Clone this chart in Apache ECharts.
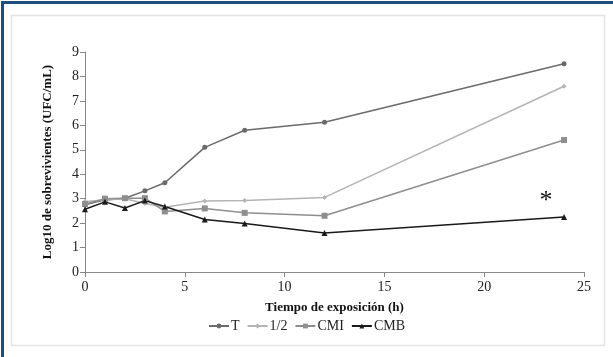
<!DOCTYPE html>
<html>
<head>
<meta charset="utf-8">
<script src="https://cdn.jsdelivr.net/npm/echarts@6/dist/echarts.min.js"></script>
<style>
  html, body { margin: 0; padding: 0; background: #fff; }
  #main { width: 613px; height: 357px; }
</style>
</head>
<body>
<div id="main"></div>
<script>
// horas de exposicion
var horas = [0, 1, 2, 3, 4, 6, 8, 12, 24];
// log10 sobrevivientes por tratamiento
var valT   = [2.75, 2.95, 3.02, 3.32, 3.65, 5.1, 5.8, 6.13, 8.52];
var valMed = [2.88, 2.95, 3.0, 2.8, 2.65, 2.9, 2.92, 3.05, 7.6];
var valCMI = [2.78, 3.0, 3.02, 3.02, 2.48, 2.6, 2.42, 2.3, 5.4];
var valCMB = [2.57, 2.87, 2.62, 2.92, 2.68, 2.15, 1.98, 1.6, 2.25];
var nombres = ['T', '1/2', 'CMI', 'CMB'];

function pares(v){
    var out = [];
    for (var i = 0; i < horas.length; i++) out.push([horas[i], v[i]]);
    return out;
}

var myChart = echarts.init(document.getElementById('main'));
var fuente = 'Liberation Serif';

var option = {
    animation: false,
    backgroundColor: '#fff',
    textStyle: { fontFamily: fuente },
    graphic: [
        { type: 'rect', left: 0, top: 0, shape: { width: 613, height: 357 },
          style: { fill: 'none', stroke: '#1f4e79', lineWidth: 3 }, silent: true },
        { type: 'rect', left: 9, top: 13, shape: { width: 593, height: 330 },
          style: { fill: 'none', stroke: '#e4e4e4', lineWidth: 1.5 }, silent: true }
    ],
    grid: { left: 85, right: 29, top: 52, bottom: 85 },
    legend: {
        bottom: 19,
        left: 'center',
        itemWidth: 20,
        itemHeight: 6,
        itemGap: 7,
        textStyle: { fontFamily: fuente, fontSize: 14, color: '#222', padding: [0, 0, 0, -3] },
        data: nombres
    },
    xAxis: {
        type: 'value', min: 0, max: 25, interval: 5,
        name: 'Tiempo de exposición (h)',
        nameLocation: 'middle', nameGap: 29,
        nameTextStyle: { fontFamily: fuente, fontSize: 13, fontWeight: 'bold', color: '#111' },
        axisLine: { lineStyle: { color: '#888' } },
        axisTick: { show: true, lineStyle: { color: '#888' } },
        axisLabel: { fontFamily: fuente, fontSize: 14, color: '#222', margin: 8 },
        splitLine: { show: false }
    },
    yAxis: {
        type: 'value', min: 0, max: 9, interval: 1,
        name: 'Log10 de sobrevivientes (UFC/mL)',
        nameLocation: 'middle', nameGap: 31, nameRotate: 90,
        nameTextStyle: { fontFamily: fuente, fontSize: 13, fontWeight: 'bold', color: '#111' },
        axisLine: { show: true, lineStyle: { color: '#888' } },
        axisTick: { show: true, lineStyle: { color: '#888' } },
        axisLabel: { fontFamily: fuente, fontSize: 14, color: '#222', margin: 6 },
        splitLine: { show: false }
    },
    series: [
        { name: 'T', type: 'line', data: pares(valT), symbol: 'circle', symbolSize: 5,
          lineStyle: { color: '#6a6a6a', width: 1.5 }, itemStyle: { color: '#6a6a6a' } },
        { name: '1/2', type: 'line', data: pares(valMed), symbol: 'diamond', symbolSize: 5,
          lineStyle: { color: '#b4b4b4', width: 1.5 }, itemStyle: { color: '#b4b4b4' } },
        { name: 'CMI', type: 'line', data: pares(valCMI), symbol: 'rect', symbolSize: 6,
          lineStyle: { color: '#8e8e8e', width: 1.5 }, itemStyle: { color: '#8e8e8e' } },
        { name: 'CMB', type: 'line', data: pares(valCMB), symbol: 'triangle', symbolSize: 6,
          lineStyle: { color: '#1a1a1a', width: 1.5 }, itemStyle: { color: '#1a1a1a' },
          markPoint: {
              symbol: 'circle', symbolSize: 0,
              data: [{ coord: [23.1, 3.0] }],
              label: { show: true, formatter: '*', fontSize: 26, color: '#111', fontFamily: fuente, offset: [0, 3] }
          } }
    ]
};
myChart.setOption(option);
</script>
</body>
</html>
